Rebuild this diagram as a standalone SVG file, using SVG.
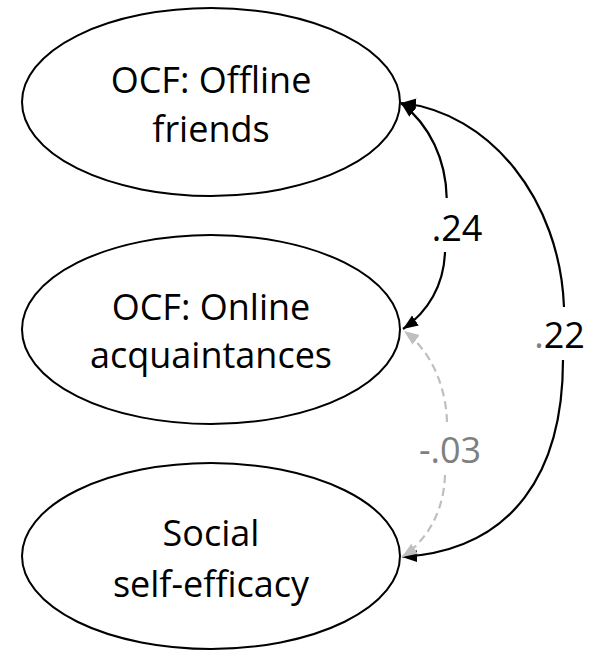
<svg xmlns="http://www.w3.org/2000/svg" width="590" height="650" viewBox="0 0 590 650">
  <style>
    .node ellipse { fill: #ffffff; stroke: #000000; stroke-width: 2; }
    .node text { font-family: "Open Sans", "Liberation Sans", sans-serif; font-size: 36px; fill: #000000; text-anchor: middle; }
    .lbl { font-family: "Open Sans", "Liberation Sans", sans-serif; font-size: 36px; text-anchor: middle; }
    .solid { fill: none; stroke: #000000; stroke-width: 2.2; }
    .dash { fill: none; stroke: #bfbfbf; stroke-width: 2.2; stroke-dasharray: 8 5; }
  </style>
  <defs>
    <marker id="ah" markerUnits="userSpaceOnUse" markerWidth="18" markerHeight="14" refX="15" refY="6" orient="auto">
      <path d="M0,0 L15,6 L0,12 z" fill="#000000" stroke="none"/>
    </marker>
    <marker id="ahg" markerUnits="userSpaceOnUse" markerWidth="18" markerHeight="14" refX="15" refY="6" orient="auto">
      <path d="M0,0 L15,6 L0,12 z" fill="#bfbfbf" stroke="none"/>
    </marker>
  </defs>
  <rect width="590" height="650" fill="#ffffff"/>

  <g id="offline" class="node">
    <ellipse cx="211" cy="102" rx="189" ry="94"/>
    <text x="211" y="93">OCF: Offline</text>
    <text x="211" y="142">friends</text>
  </g>
  <g id="online" class="node">
    <ellipse cx="211" cy="329.5" rx="189" ry="94.5"/>
    <text x="211" y="320">OCF: Online</text>
    <text x="211" y="368">acquaintances</text>
  </g>
  <g id="selfefficacy" class="node">
    <ellipse cx="211" cy="556" rx="189" ry="93"/>
    <text x="211" y="546">Social</text>
    <text x="211" y="597">self-efficacy</text>
  </g>

  <g id="connectors">
    <path class="solid" d="M564,307 C560,200 490,112 401,103" marker-end="url(#ah)"/>
    <path class="solid" d="M563,360 C563,470 515,550 402,557" marker-end="url(#ah)"/>
    <path class="dash" d="M447,422 C446,385 430,350 404,331" marker-end="url(#ahg)"/>
    <path class="dash" d="M445,475 C444,510 428,540 402,557" marker-end="url(#ahg)"/>
    <path class="solid" d="M446.7,198 C446,160 430,125 401,103" marker-end="url(#ah)"/>
    <path class="solid" d="M445,252 C444,285 428,312 403,329" marker-end="url(#ah)"/>
    <text class="lbl" x="457" y="241" fill="#000000">.24</text>
    <text class="lbl" x="559.5" y="348" fill="#000000"><tspan fill="#7f7f7f">.</tspan>22</text>
    <text class="lbl" x="450" y="463" fill="#7f7f7f">-.03</text>
  </g>
</svg>
